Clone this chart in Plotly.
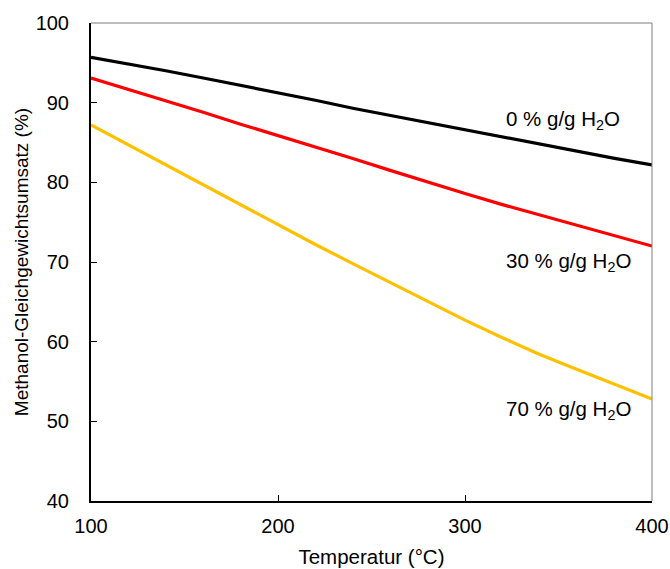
import plotly.graph_objects as go

temps = [100, 120, 140, 160, 180, 200, 220, 240, 260, 280, 300, 320, 340, 360, 380, 400]
conv_0 = [95.7, 94.9, 94.0, 93.1, 92.2, 91.2, 90.3, 89.3, 88.4, 87.4, 86.5, 85.6, 84.7, 83.8, 83.0, 82.2]
conv_30 = [93.1, 91.7, 90.3, 88.8, 87.3, 85.9, 84.4, 83.0, 81.5, 80.0, 78.6, 77.2, 75.9, 74.6, 73.3, 72.0]
conv_70 = [87.2, 84.7, 82.2, 79.6, 77.1, 74.6, 72.2, 69.8, 67.4, 65.0, 62.7, 60.5, 58.4, 56.5, 54.6, 52.8]
series_names = ["0 % g/g H<sub>2</sub>O", "30 % g/g H<sub>2</sub>O", "70 % g/g H<sub>2</sub>O"]
label_y = [87.8, 70.0, 51.4]
colors = ["#000000", "#FF0000", "#FFC000"]

FONT = "Liberation Sans, Arial, sans-serif"

fig = go.Figure()
for vals, name, c in zip([conv_0, conv_30, conv_70], series_names, colors):
    fig.add_trace(go.Scatter(x=temps, y=vals, mode="lines", name=name,
                             line=dict(color=c, width=3.2), showlegend=False))

for name, ly in zip(series_names, label_y):
    fig.add_annotation(x=321, y=ly, text=name, showarrow=False, xanchor="left",
                       yanchor="middle", font=dict(size=20.5, color="#000000", family=FONT))

fig.update_layout(
    width=670, height=569,
    margin=dict(l=91, r=18, t=23, b=68),
    paper_bgcolor="white", plot_bgcolor="white",
    font=dict(family=FONT, size=20, color="#000000"),
    xaxis=dict(range=[100, 400], tickvals=[100, 200, 300, 400], ticks="inside",
               ticklen=6, tickcolor="#000000", tickwidth=1, automargin=False,
               showline=True, linecolor="#000000", linewidth=2, showgrid=False,
               zeroline=False, ticklabelstandoff=6, tickfont=dict(size=20),
               title=dict(text="Temperatur (°C)", font=dict(size=20.5), standoff=14)),
    yaxis=dict(range=[40, 100], tickvals=[40, 50, 60, 70, 80, 90, 100], ticks="inside",
               ticklen=6, tickcolor="#000000", tickwidth=1, automargin=False,
               showline=True, linecolor="#000000", linewidth=2, showgrid=False,
               zeroline=False, ticklabelstandoff=16, tickfont=dict(size=20),
               title=dict(text="Methanol-Gleichgewichtsumsatz (%)", font=dict(size=19), standoff=2)),
)

# top and right borders (thin gray)
fig.add_shape(type="line", xref="paper", yref="paper", x0=0, x1=1, y0=1, y1=1,
              line=dict(color="#7f7f7f", width=1))
fig.add_shape(type="line", xref="paper", yref="paper", x0=1, x1=1, y0=0, y1=1,
              line=dict(color="#7f7f7f", width=1))

fig.write_html("out.html")
